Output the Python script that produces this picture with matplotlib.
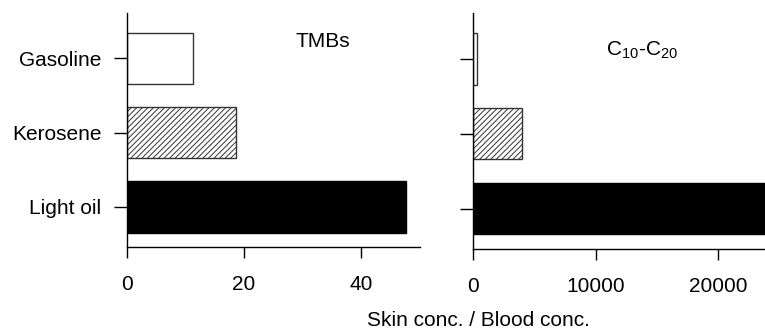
import matplotlib
matplotlib.use("Agg")
import matplotlib.pyplot as plt

plt.rcParams['font.family'] = ['Liberation Sans', 'DejaVu Sans']
plt.rcParams['mathtext.fontset'] = 'custom'
plt.rcParams['mathtext.rm'] = 'Liberation Sans'
plt.rcParams['mathtext.default'] = 'regular'
plt.rcParams['hatch.linewidth'] = 0.7

# data
fuels = ['Light oil', 'Kerosene', 'Gasoline']   # bottom to top
tmbs = [47.7, 18.7, 11.3]                        # skin / blood ratio
c10_c20 = [26000, 4000, 350]
tmb_ticks = [0, 20, 40]
c_ticks = [0, 10000, 20000]

faces = ['black', 'white', 'white']
hatches = [None, '//////', None]
edges = ['black', '#333333', '#333333']

fig = plt.figure(figsize=(7.65, 3.32), dpi=100)
ax1 = fig.add_axes([0.166, 0.256, 0.383, 0.705])
ax2 = fig.add_axes([0.618, 0.250, 0.382, 0.711])

ypos = range(len(fuels))
for ax, vals, ticks, xmax in [(ax1, tmbs, tmb_ticks, 50.1), (ax2, c10_c20, c_ticks, 23800)]:
    for y, v, fc, h, ec in zip(ypos, vals, faces, hatches, edges):
        ax.barh(y, v, height=0.69, color=fc, hatch=h, edgecolor=ec, linewidth=1.0)
    ax.set_xlim(0, xmax)
    ax.set_ylim(-0.54, 2.61)
    ax.set_xticks(ticks)
    ax.set_yticks(list(ypos))
    for s in ['top', 'right']:
        ax.spines[s].set_visible(False)
    for s in ['left', 'bottom']:
        ax.spines[s].set_linewidth(1.0)
    ax.tick_params(axis='x', length=8, width=1.0, pad=12, labelsize=15)
    ax.tick_params(axis='y', length=9.5, width=1.0, pad=9, labelsize=15)

ax1.set_yticklabels(fuels)
ax2.set_yticklabels([])

ax1.text(0.67, 0.877, 'TMBs', transform=ax1.transAxes, fontsize=15, ha='center', va='center')
ax2.text(0.58, 0.84, 'C$_{10}$-C$_{20}$', transform=ax2.transAxes, fontsize=15, ha='center', va='center')

fig.text(0.626, 0.035, 'Skin conc. / Blood conc.', fontsize=15, ha='center', va='center')

fig.savefig('out.png', dpi=100)
